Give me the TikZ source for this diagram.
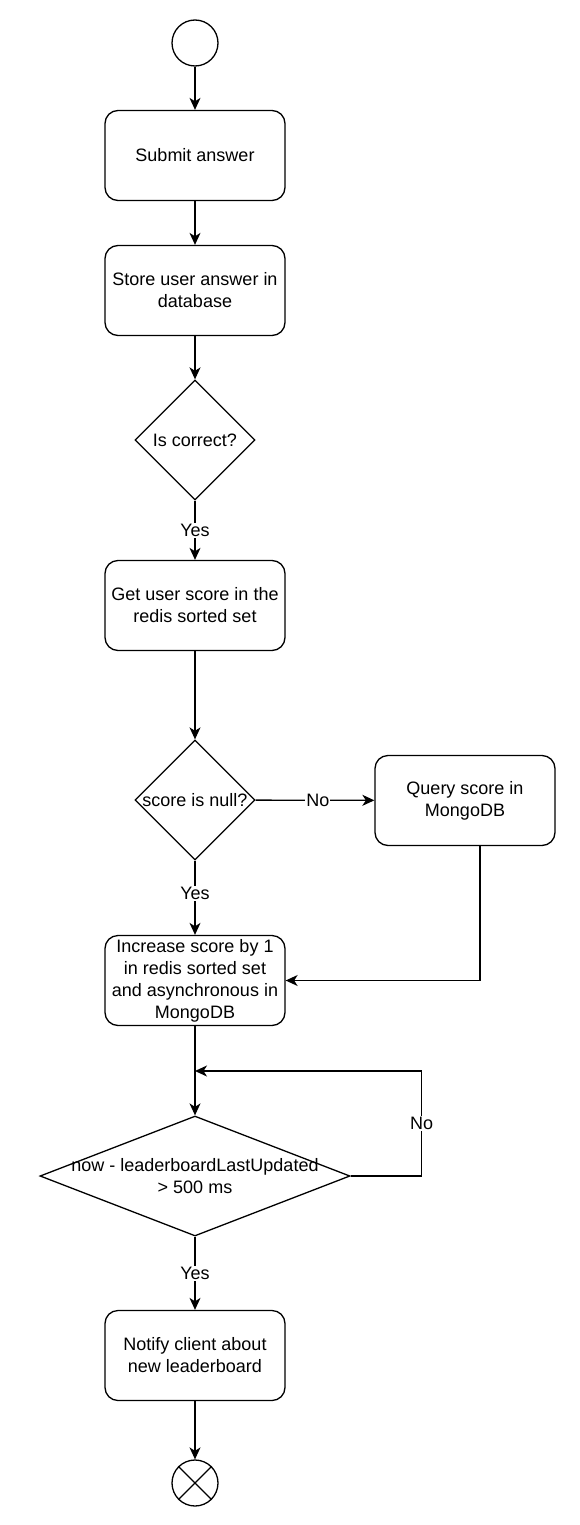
\documentclass[tikz,border=0pt]{standalone}
\usepackage{fontspec}
\setmainfont{Liberation Sans}
\usetikzlibrary{shapes.geometric, arrows.meta}
\begin{document}
\begin{tikzpicture}[x=1pt,y=-1pt,
    every node/.style={font=\fontsize{18}{22}\selectfont},
    act/.style={draw,line width=1.3pt,rounded corners=13pt,minimum width=180pt,minimum height=90pt,align=center},
    decision/.style={draw,diamond,line width=1.3pt,inner sep=0pt,minimum width=120pt,minimum height=120pt},
    startnode/.style={draw,circle,line width=1.3pt,minimum size=46pt,inner sep=0pt},
    flow/.style={line width=1.3pt,-{Stealth[length=12pt,width=11pt,inset=3.5pt]}},
    edgelbl/.style={fill=white,inner sep=1pt}]
    \useasboundingbox (0,0) rectangle (580,1525);
    \node[startnode] (start) at (195,43) {};
    \node[act] (submit) at (195,155.5) {Submit answer};
    \node[act] (store) at (195,290.5) {Store user answer in\\database};
    \node[decision,label=center:Is correct?] (correct) at (195,440) {};
    \node[act] (get) at (195,605.5) {Get user score in the\\redis sorted set};
    \node[decision,label=center:score is null?] (isnull) at (195,800) {};
    \node[act] (query) at (465,800.5) {Query score in\\MongoDB};
    \node[act] (inc) at (195,980.5) {Increase score by 1\\in redis sorted set\\and asynchronous in\\MongoDB};
    \node[decision,minimum width=310pt,label={[align=center]center:now - leaderboardLastUpdated\\> 500 ms}] (wait) at (195,1176) {};
    \coordinate (loop) at (195,1071);
    \node[act] (notify) at (195,1355.5) {Notify client about\\new leaderboard};
    \node[startnode] (stop) at (195,1483) {};
    \draw[line width=1.3pt] (stop.45)--(stop.225) (stop.135)--(stop.-45);
    \draw[flow] (start)--(submit);
    \draw[flow] (submit)--(store);
    \draw[flow] (store)--(correct);
    \draw[flow] (correct)--node[edgelbl]{Yes}(get);
    \draw[flow] (get)--(isnull);
    \draw[flow] (isnull)--node[edgelbl,xshift=3pt]{No}(query);
    \draw[flow] (isnull)--node[edgelbl,yshift=4pt]{Yes}(inc);
    \draw[flow] ([xshift=15pt]query.south)|-(inc.east);
    \draw[flow] (inc)--(wait);
    \draw[flow] (wait.east)--++(71,0)|-node[pos=0.25,edgelbl]{No}(loop);
    \draw[flow] (wait)--node[edgelbl]{Yes}(notify);
    \draw[flow] (notify)--(stop);
\end{tikzpicture}
\end{document}
